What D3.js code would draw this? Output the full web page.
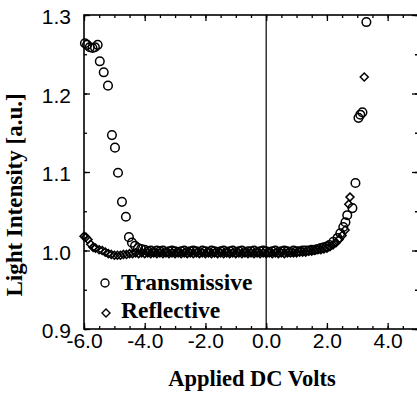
<!DOCTYPE html>
<html>
<head>
<meta charset="utf-8">
<script src="https://cdn.jsdelivr.net/npm/d3@7"></script>
<style>
  body { margin: 0; background: #fff; }
  svg { display: block; }
</style>
</head>
<body>
<svg class="chart-svg" width="417" height="395"></svg>
<script>
// Transmissive (circles)
const transVolts = [
  -5.97, -5.9, -5.81, -5.72, -5.64, -5.55, -5.48, -5.35, -5.21, -5.08,
  -4.98, -4.88, -4.75, -4.62, -4.52, -4.42, -4.32, -4.22, -4.12, -4.0,
  -3.9, -3.8, -3.7, -3.6, -3.5, -3.4, -3.3, -3.2, -3.1, -3.0,
  -2.9, -2.8, -2.7, -2.6, -2.5, -2.4, -2.3, -2.2, -2.1, -2.0,
  -1.9, -1.8, -1.7, -1.6, -1.5, -1.4, -1.3, -1.2, -1.1, -1.0,
  -0.9, -0.8, -0.7, -0.6, -0.5, -0.4, -0.3, -0.2, -0.1, 0.0,
  0.1, 0.2, 0.3, 0.4, 0.5, 0.6, 0.7, 0.8, 0.9, 1.0,
  1.1, 1.2, 1.3, 1.4, 1.5, 1.6, 1.7, 1.8, 1.9, 2.0,
  2.08, 2.21, 2.35, 2.44, 2.54, 2.61, 2.67, 2.84, 2.94, 3.04,
  3.1, 3.17, 3.3
]
const transValues = [
  1.264, 1.262, 1.259, 1.258, 1.259, 1.262, 1.241, 1.227, 1.210, 1.147,
  1.131, 1.099, 1.062, 1.043, 1.017, 1.010, 1.006, 1.003, 1.002, 1.001,
  0.999, 1.000, 0.998, 1.000, 0.999, 1.000, 0.998, 0.999, 1.000, 0.999,
  0.998, 0.999, 1.000, 0.998, 0.999, 1.000, 0.999, 0.998, 1.000, 0.999,
  0.998, 1.000, 0.999, 0.998, 0.999, 1.000, 0.998, 0.999, 1.000, 0.998,
  0.999, 1.000, 0.998, 0.999, 0.999, 1.000, 0.998, 0.999, 1.000, 0.999,
  0.998, 0.999, 1.000, 0.998, 0.999, 1.000, 0.999, 0.998, 1.000, 0.999,
  0.999, 1.000, 1.000, 1.000, 1.001, 1.001, 1.002, 1.003, 1.004, 1.005,
  1.007, 1.011, 1.016, 1.022, 1.030, 1.036, 1.045, 1.054, 1.086, 1.169,
  1.173, 1.176, 1.291
]

// Reflective (diamonds)
const reflVolts = [
  -6.0, -5.94, -5.87, -5.78, -5.7, -5.62, -5.5, -5.4, -5.3, -5.2,
  -5.1, -5.0, -4.9, -4.8, -4.7, -4.6, -4.5, -4.4, -4.3, -4.2,
  -4.1, -4.0, -3.9, -3.8, -3.7, -3.6, -3.5, -3.4, -3.3, -3.2,
  -3.1, -3.0, -2.9, -2.8, -2.7, -2.6, -2.5, -2.4, -2.3, -2.2,
  -2.1, -2.0, -1.9, -1.8, -1.7, -1.6, -1.5, -1.4, -1.3, -1.2,
  -1.1, -1.0, -0.9, -0.8, -0.7, -0.6, -0.5, -0.4, -0.3, -0.2,
  -0.1, 0.0, 0.1, 0.2, 0.3, 0.4, 0.5, 0.6, 0.7, 0.8,
  0.9, 1.0, 1.1, 1.2, 1.3, 1.4, 1.5, 1.6, 1.7, 1.8,
  1.9, 2.0, 2.1, 2.2, 2.3, 2.4, 2.5, 2.6, 2.72, 2.76,
  3.23
]
const reflValues = [
  1.018, 1.017, 1.014, 1.008, 1.004, 1.003, 1.001, 1.000, 0.998, 0.996,
  0.995, 0.994, 0.994, 0.994, 0.995, 0.995, 0.996, 0.996, 0.997, 0.996,
  0.997, 0.996, 0.997, 0.996, 0.997, 0.996, 0.997, 0.996, 0.997, 0.996,
  0.997, 0.996, 0.997, 0.996, 0.997, 0.996, 0.997, 0.996, 0.997, 0.996,
  0.997, 0.996, 0.997, 0.996, 0.997, 0.996, 0.997, 0.996, 0.997, 0.996,
  0.997, 0.996, 0.997, 0.996, 0.997, 0.996, 0.997, 0.996, 0.997, 0.996,
  0.997, 0.996, 0.997, 0.996, 0.997, 0.996, 0.997, 0.996, 0.997, 0.997,
  0.997, 0.997, 0.998, 0.998, 0.998, 0.999, 0.999, 1.000, 1.001, 1.001,
  1.002, 1.003, 1.005, 1.007, 1.010, 1.014, 1.019, 1.026, 1.059, 1.068,
  1.221
]

const xTicks = [-6, -4, -2, 0, 2, 4]
const xTickLabels = ['-6.0', '-4.0', '-2.0', '0.0', '2.0', '4.0']
const yTicks = [0.9, 1.0, 1.1, 1.2, 1.3]
const yTickLabels = ['0.9', '1.0', '1.1', '1.2', '1.3']
const seriesNames = ['Transmissive', 'Reflective']

const margin = { left: 84, right: 418, top: 15, bottom: 329 }
const sansFont = '"Liberation Sans", Arial, sans-serif'
const serifFont = '"Liberation Serif", "Times New Roman", serif'

const svg = d3.select('.chart-svg')

const xScale = d3.scaleLinear().domain([-6, 5]).range([margin.left, margin.right])
const yScale = d3.scaleLinear().domain([0.9, 1.3]).range([margin.bottom, margin.top])

/**
 * Draws inward ticks on all four sides, plus the frame.
 */
function drawAxes () {
  const xMinor = d3.range(-6, 5.001, 0.5)
  const yMinor = d3.range(0.9, 1.3001, 0.05)

  const bottom = svg.append('g')
    .attr('transform', `translate(0,${margin.bottom})`)
  bottom.append('g').call(d3.axisBottom(xScale).tickValues(xMinor).tickSize(-3).tickFormat(''))
  bottom.append('g').attr('class', 'x-major')
    .call(d3.axisBottom(xScale).tickValues(xTicks).tickSize(-6).tickPadding(3)
      .tickFormat((d, i) => xTickLabels[i]))

  const top = svg.append('g')
    .attr('transform', `translate(0,${margin.top})`)
  top.append('g').call(d3.axisTop(xScale).tickValues(xMinor).tickSize(-3).tickFormat(''))
  top.append('g').call(d3.axisTop(xScale).tickValues(xTicks).tickSize(-6).tickFormat(''))

  const left = svg.append('g')
    .attr('transform', `translate(${margin.left},0)`)
  left.append('g').call(d3.axisLeft(yScale).tickValues(yMinor).tickSize(-3).tickFormat(''))
  left.append('g').attr('class', 'y-major')
    .call(d3.axisLeft(yScale).tickValues(yTicks).tickSize(-6).tickPadding(13)
      .tickFormat((d, i) => yTickLabels[i]))

  const right = svg.append('g')
    .attr('transform', `translate(${margin.right},0)`)
  right.append('g').call(d3.axisRight(yScale).tickValues(yMinor).tickSize(-3).tickFormat(''))
  right.append('g').call(d3.axisRight(yScale).tickValues(yTicks).tickSize(-6).tickFormat(''))

  svg.selectAll('.domain').remove()
  svg.selectAll('.tick line').attr('stroke', '#000').attr('stroke-width', 1.3)
  svg.selectAll('.tick text')
    .attr('fill', '#000')
    .style('font-family', sansFont)
    .style('font-size', '21px')
  svg.selectAll('.y-major .tick text').attr('dy', '0.42em')
  svg.selectAll('.x-major .tick text').attr('dy', '0.74em')

  svg.append('rect')
    .attr('x', margin.left)
    .attr('y', margin.top)
    .attr('width', margin.right - margin.left)
    .attr('height', margin.bottom - margin.top)
    .attr('fill', 'none')
    .attr('stroke', '#000')
    .attr('stroke-width', 1.6)

  // zero line
  svg.append('line')
    .attr('x1', xScale(0)).attr('x2', xScale(0))
    .attr('y1', margin.top).attr('y2', margin.bottom)
    .attr('stroke', '#000')
    .attr('stroke-width', 1.2)
}

/**
 * Draws the axis titles.
 */
function drawTitles () {
  svg.append('text')
    .attr('x', 252)
    .attr('y', 386)
    .attr('text-anchor', 'middle')
    .style('font-family', serifFont)
    .style('font-weight', 'bold')
    .style('font-size', '22.5px')
    .text('Applied DC Volts')

  svg.append('text')
    .attr('transform', 'translate(22,195) rotate(-90)')
    .attr('text-anchor', 'middle')
    .style('font-family', serifFont)
    .style('font-weight', 'bold')
    .style('font-size', '23px')
    .text('Light Intensity [a.u.]')
}

const diamond = r => `M0,${-r}L${r},0L0,${r}L${-r},0Z`

/**
 * Draws both data series.
 */
function drawPoints () {
  const trans = transVolts.map((v, i) => ({ v, y: transValues[i] }))
  const refl = reflVolts.map((v, i) => ({ v, y: reflValues[i] }))

  svg.append('g').selectAll('path')
    .data(refl)
    .enter()
    .append('path')
    .attr('d', diamond(4))
    .attr('transform', d => `translate(${xScale(d.v)},${yScale(d.y)})`)
    .attr('fill', 'none')
    .attr('stroke', '#000')
    .attr('stroke-width', 1.5)

  svg.append('g').selectAll('circle')
    .data(trans)
    .enter()
    .append('circle')
    .attr('cx', d => xScale(d.v))
    .attr('cy', d => yScale(d.y))
    .attr('r', 4.3)
    .attr('fill', 'none')
    .attr('stroke', '#000')
    .attr('stroke-width', 1.5)
}

/**
 * Draws the legend in the lower left corner.
 */
function drawLegend () {
  const g = svg.append('g')
  g.append('circle')
    .attr('cx', 105).attr('cy', 283).attr('r', 4)
    .attr('fill', 'none').attr('stroke', '#000').attr('stroke-width', 1.4)
  g.append('path')
    .attr('d', diamond(4))
    .attr('transform', 'translate(106,313)')
    .attr('fill', 'none').attr('stroke', '#000').attr('stroke-width', 1.4)
  g.selectAll('text')
    .data(seriesNames)
    .enter()
    .append('text')
    .attr('x', 121)
    .attr('y', (d, i) => 290 + i * 28)
    .style('font-family', serifFont)
    .style('font-weight', 'bold')
    .style('font-size', '23.5px')
    .text(d => d)
}

drawAxes()
drawPoints()
drawLegend()
drawTitles()
</script>
</body>
</html>
